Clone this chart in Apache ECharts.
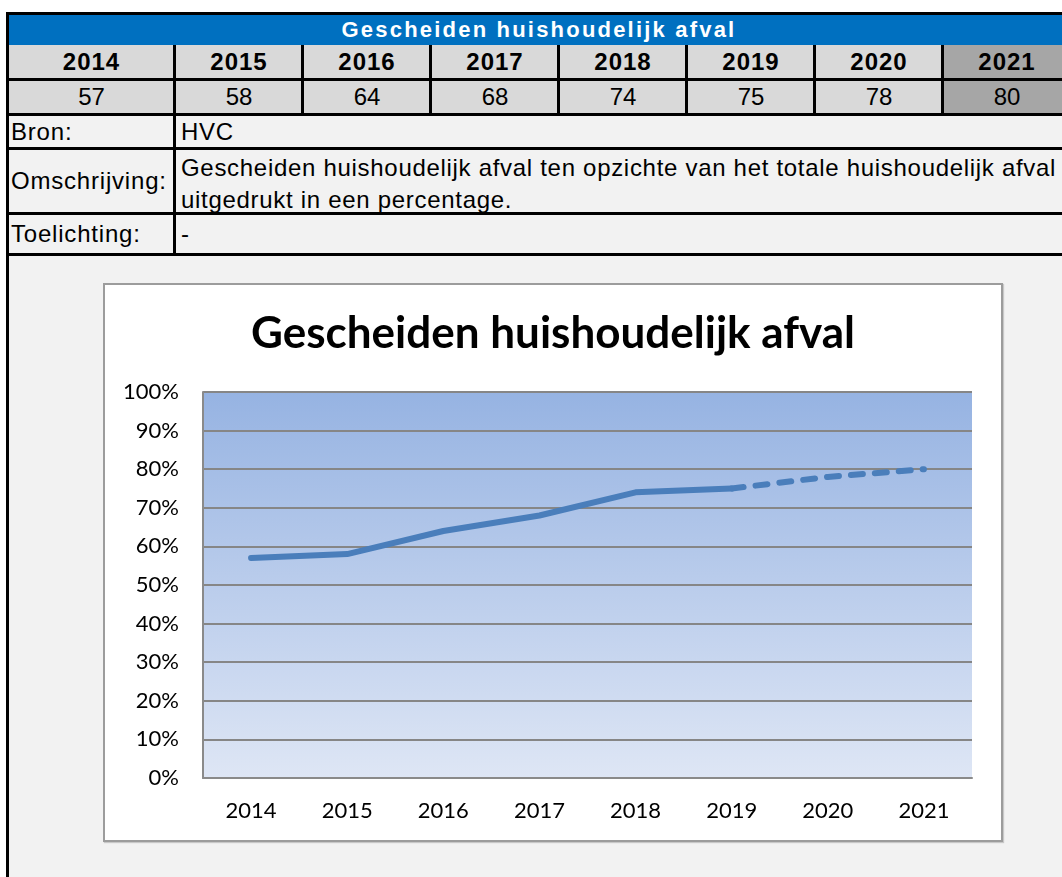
<!DOCTYPE html>
<html>
<head>
<meta charset="utf-8">
<script src="https://cdn.jsdelivr.net/npm/echarts@6/dist/echarts.min.js"></script>
<style>
  html, body { margin: 0; padding: 0; background: #fff; }
  body { width: 1062px; height: 877px; position: relative; overflow: hidden; font-family: 'Liberation Sans', Arial, sans-serif; }
  .abs { position: absolute; box-sizing: border-box; }
  .cell { position: absolute; box-sizing: border-box; display: flex; align-items: center; justify-content: center; color: #000; font-size: 23px; }
  .line { position: absolute; background: #000; }
  #box { position: absolute; left: 103px; top: 283px; width: 896px; height: 555px; border: 2px solid #9c9c9c; background: #fff; box-shadow: 1px 1px 1px #c8c8c8; }
  #chart { width: 896px; height: 555px; }
</style>
</head>
<body>
<div id="table"></div>
<div id="box"><div id="chart"></div></div>
<script>
var tableTitle = 'Gescheiden huishoudelijk afval'
var years = ['2014', '2015', '2016', '2017', '2018', '2019', '2020', '2021']
var values = [57, 58, 64, 68, 74, 75, 78, 80]
var lastActual = 5 // 2019: laatste gemeten jaar, daarna stippellijn
var infoLabels = ['Bron:', 'Omschrijving:', 'Toelichting:']
var infoTexts = ['HVC', 'Gescheiden huishoudelijk afval ten opzichte van het totale huishoudelijk afval uitgedrukt in een percentage.', '-']

var table = document.getElementById('table')

function el(cls, css, text) {
    var d = document.createElement('div')
    d.className = cls
    for (var k in css) d.style[k] = css[k]
    if (text !== undefined) d.textContent = text
    table.appendChild(d)
    return d
}

// achtergronden
el('abs', { left: '6px', top: '256px', width: '1056px', height: '621px', background: '#f2f2f2' })
el('abs', { left: '6px', top: '14px', width: '1056px', height: '31px', background: '#0070c0' })
el('cell', { left: '6px', top: '14px', width: '1066px', height: '31px', color: '#fff', fontWeight: 'bold', fontSize: '22px', letterSpacing: '2.2px' }, tableTitle)

var colX = [8, 175, 303, 431, 559, 687, 815, 943, 1071]
years.forEach(function (y, i) {
    var bg = i === years.length - 1 ? '#a6a6a6' : '#d9d9d9'
    el('cell', { left: colX[i] + 'px', top: '45px', width: colX[i + 1] - colX[i] + 'px', height: '33px', background: bg, fontWeight: 'bold', fontSize: '24px', letterSpacing: '1px' }, y)
    el('cell', { left: colX[i] + 'px', top: '81px', width: colX[i + 1] - colX[i] + 'px', height: '32px', background: bg, fontSize: '24px' }, values[i])
})

var rowY = [[116, 31], [150, 62], [215, 38]]
infoLabels.forEach(function (lab, i) {
    el('cell', { left: '8px', top: rowY[i][0] + 'px', width: '167px', height: rowY[i][1] + 'px', background: '#f2f2f2', justifyContent: 'flex-start', paddingLeft: '3px', fontSize: '24px', letterSpacing: '0.8px' }, lab)
    el('cell', { left: '176px', top: rowY[i][0] + 'px', width: '900px', height: rowY[i][1] + 'px', background: '#f2f2f2', justifyContent: 'flex-start', paddingLeft: '5px', paddingTop: i === 1 ? '5px' : '0', fontSize: '24px', letterSpacing: '0.7px', lineHeight: '32px', whiteSpace: 'normal' }, infoTexts[i])
})

// rasterlijnen
el('line', { left: '6px', top: '12px', width: '1056px', height: '3px' })
el('line', { left: '6px', top: '12px', width: '3px', height: '865px' })
;[78, 113, 147, 212, 253].forEach(function (y) {
    el('line', { left: '6px', top: y + 'px', width: '1056px', height: '3px' })
})
el('line', { left: '173px', top: '45px', width: '3px', height: '211px' })
for (var c = 2; c < colX.length - 1; c++) {
    el('line', { left: colX[c] - 2 + 'px', top: '45px', width: '3px', height: '70px' })
}

// grafiek
var solid = values.map(function (v, i) { return i <= lastActual ? v : null })
var dashed = values.map(function (v, i) { return i >= lastActual ? v : null })

var chart = echarts.init(document.getElementById('chart'))
chart.setOption({
    animation: false,
    title: {
        text: tableTitle,
        left: 'center',
        top: 22,
        textStyle: { fontFamily: 'Lato', fontWeight: 'bold', fontSize: 44, color: '#000' }
    },
    grid: {
        left: 98, top: 107, right: 29, bottom: 62,
        show: true,
        borderWidth: 0,
        backgroundColor: new echarts.graphic.LinearGradient(0, 0, 0, 1, [
            { offset: 0, color: '#96b3e2' },
            { offset: 1, color: '#dee6f5' }
        ])
    },
    xAxis: {
        type: 'category',
        data: years,
        boundaryGap: true,
        axisLine: { lineStyle: { color: '#8a8a8a', width: 2 } },
        axisTick: { show: false },
        axisLabel: { fontFamily: 'Lato', fontSize: 22, color: '#000', margin: 22 }
    },
    yAxis: {
        type: 'value',
        min: 0, max: 100, interval: 10,
        axisLine: { show: true, lineStyle: { color: '#8a8a8a', width: 2 } },
        axisTick: { show: false },
        splitLine: { lineStyle: { color: '#868686', width: 2 } },
        axisLabel: { fontFamily: 'Lato', fontSize: 22, color: '#000', margin: 24, formatter: '{value}%' }
    },
    series: [
        {
            type: 'line', data: solid, symbol: 'none',
            lineStyle: { color: '#4a7ebb', width: 6, cap: 'round', join: 'round' }
        },
        {
            type: 'line', data: dashed, symbol: 'none',
            lineStyle: { color: '#4a7ebb', width: 6, type: [12, 12], cap: 'round', join: 'round' }
        }
    ]
})
</script>
</body>
</html>
